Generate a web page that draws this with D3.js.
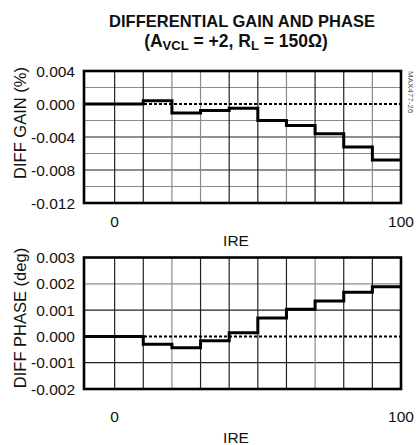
<!DOCTYPE html>
<html>
<head>
<meta charset="utf-8">
<script src="https://cdn.jsdelivr.net/npm/d3@7"></script>
<style>
  body { margin: 0; background: #fff; }
  svg { display: block; }
  .tick-label { font-family: "Liberation Sans", Arial, sans-serif; font-size: 15.5px; fill: #111; }
  .title { font-family: "Liberation Sans Narrow", "Arial Narrow", "Liberation Sans", sans-serif; font-weight: bold; font-size: 16.5px; fill: #111; }
</style>
</head>
<body>
<div id="chart"></div>
<script>
// data
var ireSteps = [0, 10, 20, 30, 40, 50, 60, 70, 80, 90];
var diffGain = [0, 0.0004, -0.0011, -0.0008, -0.0005, -0.002, -0.0026, -0.0036, -0.0052, -0.0068];
var diffPhase = [0, -0.0003, -0.00043, -0.00017, 0.00014, 0.0007, 0.00103, 0.00135, 0.00168, 0.00189];

var gainTicks = [0.004, 0.000, -0.004, -0.008, -0.012];
var gainMinor = [0.002, -0.002, -0.006, -0.010];
var phaseTicks = [0.003, 0.002, 0.001, 0.000, -0.001, -0.002];
var phaseGray = [0.002];
var xTickLabels = [0, 100];

var width = 416, height = 445;
var svg = d3.select("#chart").append("svg")
    .attr("width", width)
    .attr("height", height);

// title
var title = svg.append("text").attr("class", "title").attr("text-anchor", "middle");
title.append("tspan").attr("x", 242).attr("y", 27).text("DIFFERENTIAL GAIN AND PHASE");
var t2 = svg.append("text").attr("class", "title").attr("text-anchor", "middle")
    .attr("x", 236).attr("y", 47).style("font-size", "17.5px");
t2.append("tspan").text("(A");
t2.append("tspan").attr("font-size", "13px").attr("dy", 3).text("VCL");
t2.append("tspan").attr("dy", -3).text(" = +2, R");
t2.append("tspan").attr("font-size", "13px").attr("dy", 3).text("L");
t2.append("tspan").attr("dy", -3).text(" = 150\u03A9)");

// side code
svg.append("text")
    .attr("transform", "translate(408,71) rotate(90)")
    .attr("font-family", "'Liberation Sans Narrow', 'Liberation Sans', sans-serif")
    .attr("font-size", "8px")
    .attr("fill", "#555")
    .text("MAX477-26");

function panel(opts) {
  var x = d3.scaleLinear().domain([-10.7, 100]).range([84, 401]);
  var y = d3.scaleLinear().domain(opts.domain).range([opts.bottom, opts.top]);
  var g = svg.append("g");
  var isGray = d => opts.minor.indexOf(d) >= 0;

  // horizontal grid: labelled lines dark, others gray
  var hLines = opts.minor.concat(opts.major.filter(d => d !== 0 && opts.minor.indexOf(d) < 0));
  g.selectAll(".hgrid").data(hLines).enter().append("line")
      .attr("x1", x.range()[0]).attr("x2", x.range()[1])
      .attr("y1", d => y(d)).attr("y2", d => y(d))
      .attr("stroke", d => isGray(d) ? "#8a8a8a" : "#222")
      .attr("stroke-width", 1.2);
  // vertical grid
  g.selectAll(".vgrid").data(ireSteps).enter().append("line")
      .attr("x1", d => x(d)).attr("x2", d => x(d))
      .attr("y1", opts.top).attr("y2", opts.bottom)
      .attr("stroke", (d, i) => opts.vgray.indexOf(i) >= 0 ? "#8a8a8a" : "#222")
      .attr("stroke-width", 1.2);
  // dotted zero line
  g.append("line")
      .attr("x1", x.range()[0]).attr("x2", x.range()[1])
      .attr("y1", y(0)).attr("y2", y(0))
      .attr("stroke", "#000").attr("stroke-width", 2)
      .attr("stroke-dasharray", "3,2");

  // step line
  var pts = ireSteps.map((s, i) => [i === 0 ? x.domain()[0] : s, opts.values[i]]);
  pts.push([100, opts.values[opts.values.length - 1]]);
  var line = d3.line().x(d => x(d[0])).y(d => y(d[1])).curve(d3.curveStepAfter);
  g.append("path").datum(pts)
      .attr("d", line)
      .attr("fill", "none").attr("stroke", "#000").attr("stroke-width", 3);

  // frame
  g.append("rect")
      .attr("x", x.range()[0]).attr("y", opts.top)
      .attr("width", x.range()[1] - x.range()[0])
      .attr("height", opts.bottom - opts.top)
      .attr("fill", "none").attr("stroke", "#000").attr("stroke-width", 2.6);

  // y tick labels
  g.selectAll(".ylab").data(opts.major).enter().append("text")
      .attr("class", "tick-label")
      .attr("x", 75).attr("y", d => y(d)).attr("dy", "0.36em")
      .attr("text-anchor", "end")
      .text(d => d3.format(".3f")(d).replace("\u2212", "-"));

  // x tick labels
  g.selectAll(".xlab").data(xTickLabels).enter().append("text")
      .attr("class", "tick-label")
      .attr("x", d => x(d)).attr("y", opts.bottom + opts.xlabOff)
      .attr("text-anchor", "middle")
      .text(d => d);
  g.append("text").attr("class", "tick-label")
      .attr("x", 236).attr("y", opts.bottom + opts.ireOff)
      .attr("text-anchor", "middle").text("IRE");

  // y title
  g.append("text").attr("class", "tick-label")
      .style("font-size", "16.5px")
      .attr("transform", "translate(26," + opts.titleY + ") rotate(-90)")
      .attr("text-anchor", "middle")
      .text(opts.ylabel);
}

panel({
  values: diffGain, domain: [-0.012, 0.004], top: 71, bottom: 203,
  major: gainTicks, minor: gainMinor, vgray: [2, 3, 6, 9],
  ylabel: "DIFF GAIN (%)", titleY: 123, xlabOff: 24, ireOff: 43
});
panel({
  values: diffPhase, domain: [-0.002, 0.003], top: 257.5, bottom: 389,
  major: phaseTicks, minor: phaseGray, vgray: [2, 7],
  ylabel: "DIFF PHASE (deg)", titleY: 318, xlabOff: 33, ireOff: 54
});
</script>
</body>
</html>
